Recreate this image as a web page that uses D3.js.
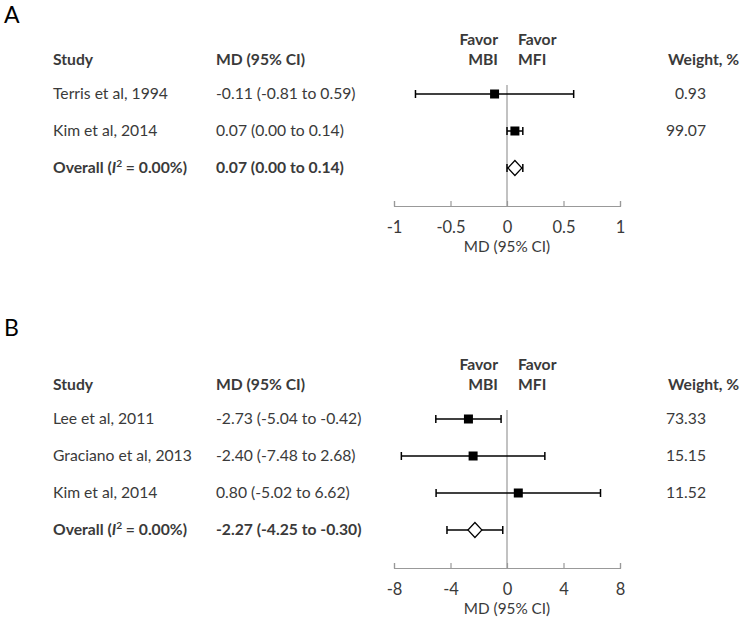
<!DOCTYPE html>
<html>
<head>
<meta charset="utf-8">
<script src="https://cdn.jsdelivr.net/npm/d3@7"></script>
<style>
  body { margin: 0; background: #fff; }
  svg { display: block; }
  text { font-family: Lato, "Open Sans", sans-serif; fill: #3a3a3a; }
</style>
</head>
<body>
<svg id="chart" width="743" height="623"></svg>
<script>
// ---- Panel A data ----
const studiesA = ["Terris et al, 1994", "Kim et al, 2014"];
const mdA = [-0.11, 0.07];
const loA = [-0.81, 0.00];
const hiA = [0.59, 0.14];
const weightsA = ["0.93", "99.07"];
const overallA = [0.07, 0.00, 0.14];
const overallTextA = "0.07 (0.00 to 0.14)";
const ticksA = [-1, -0.5, 0, 0.5, 1];

// ---- Panel B data ----
const studiesB = ["Lee et al, 2011", "Graciano et al, 2013", "Kim et al, 2014"];
const mdB = [-2.73, -2.40, 0.80];
const loB = [-5.04, -7.48, -5.02];
const hiB = [-0.42, 2.68, 6.62];
const weightsB = ["73.33", "15.15", "11.52"];
const overallB = [-2.27, -4.25, -0.30];
const overallTextB = "-2.27 (-4.25 to -0.30)";
const ticksB = [-8, -4, 0, 4, 8];

const fmt = v => v.toFixed(2);
const ciText = (m, l, h) => `${fmt(m)} (${fmt(l)} to ${fmt(h)})`;

const svg = d3.select("#chart");

function panel(cfg) {
  const g = svg.append("g");
  const n = cfg.studies.length;
  const hdr = cfg.headerY;
  const y = d3.scalePoint().domain(d3.range(n + 1)).range([hdr + 34, hdr + 34 + 37 * n]);
  const axisY = y(n) + 38;
  const x = d3.scaleLinear().domain(cfg.domain).range([394, 620]);

  // panel letter
  g.append("text").attr("x", 4).attr("y", cfg.letterY).attr("font-size", 23).style("fill", "#000").text(cfg.letter);

  // headers
  const hfs = 15.7;
  const head = (tx, xx, yy, anchor) => g.append("text").attr("x", xx).attr("y", yy).attr("dy", "0.35em")
    .attr("text-anchor", anchor || "start").attr("font-size", hfs).attr("font-weight", "bold").text(tx);
  head("Study", 53, hdr);
  head("MD (95% CI)", 216, hdr);
  head("Weight, %", 668, hdr);
  head("Favor", 498, hdr - 20, "end");
  head("MBI", 498, hdr, "end");
  head("Favor", 518, hdr - 20);
  head("MFI", 518, hdr);

  const fs = 15.7;
  // study rows
  cfg.studies.forEach((s, i) => {
    g.append("text").attr("x", 53).attr("y", y(i)).attr("dy", "0.35em").attr("font-size", fs).text(s);
    g.append("text").attr("x", 216).attr("y", y(i)).attr("dy", "0.35em").attr("font-size", fs)
      .text(ciText(cfg.md[i], cfg.lo[i], cfg.hi[i]));
    g.append("text").attr("x", 706).attr("y", y(i)).attr("dy", "0.35em").attr("text-anchor", "end").attr("font-size", fs).text(cfg.weights[i]);
  });
  // overall row
  const ot = g.append("text").attr("x", 53).attr("y", y(n)).attr("dy", "0.35em").attr("font-size", fs).attr("font-weight", "bold");
  ot.append("tspan").text("Overall (");
  ot.append("tspan").attr("font-style", "italic").text("I");
  ot.append("tspan").attr("font-size", fs * 0.65).attr("dy", "-0.6em").text("2");
  ot.append("tspan").attr("dy", "0.39em").text(" = 0.00%)");
  g.append("text").attr("x", 216).attr("y", y(n)).attr("dy", "0.35em").attr("font-size", fs).attr("font-weight", "bold").text(cfg.overallText);

  // zero line
  g.append("line").attr("x1", x(0)).attr("x2", x(0)).attr("y1", y(0) - 9).attr("y2", axisY)
    .attr("stroke", "#999").attr("stroke-width", 1.2);

  // axis
  const ax = g.append("g").attr("transform", `translate(0,${axisY})`)
    .call(d3.axisBottom(x).tickValues(cfg.ticks).tickSizeInner(-5).tickSizeOuter(-5).tickPadding(15)
      .tickFormat(d => String(d)));
  ax.select(".domain").attr("stroke", "#999").attr("stroke-width", 1.2);
  ax.selectAll(".tick line").attr("stroke", "#999").attr("stroke-width", 1.2);
  ax.selectAll(".tick text").attr("font-size", 16.5).attr("font-family", "Lato, sans-serif").style("fill", "#3a3a3a");
  g.append("text").attr("x", x(0)).attr("y", axisY + 41).attr("dy", "0.35em").attr("text-anchor", "middle").attr("font-size", 15.3).text("MD (95% CI)");

  // error bars
  const rows = cfg.md.map((m, i) => ({ m, l: cfg.lo[i], h: cfg.hi[i], yy: y(i), ov: false }));
  rows.push({ m: cfg.overall[0], l: cfg.overall[1], h: cfg.overall[2], yy: y(n), ov: true });
  const eb = g.append("g").attr("stroke", "#000").attr("stroke-width", 1.5);
  rows.forEach(r => {
    eb.append("line").attr("x1", x(r.l)).attr("x2", x(r.h)).attr("y1", r.yy).attr("y2", r.yy);
    eb.append("line").attr("x1", x(r.l)).attr("x2", x(r.l)).attr("y1", r.yy - 4).attr("y2", r.yy + 4);
    eb.append("line").attr("x1", x(r.h)).attr("x2", x(r.h)).attr("y1", r.yy - 4).attr("y2", r.yy + 4);
  });
  rows.forEach(r => {
    if (!r.ov) {
      g.append("rect").attr("x", x(r.m) - 4.5).attr("y", r.yy - 4.5).attr("width", 9).attr("height", 9).attr("fill", "#000");
    } else {
      const cx = x(r.m), cy = r.yy;
      g.append("path").attr("d", `M${cx - 7},${cy} L${cx},${cy - 7.5} L${cx + 7},${cy} L${cx},${cy + 7.5} Z`)
        .attr("fill", "#fff").attr("stroke", "#000").attr("stroke-width", 1.2);
    }
  });
}

panel({ letter: "A", letterY: 23, headerY: 60, domain: [-1, 1], ticks: ticksA,
  studies: studiesA, md: mdA, lo: loA, hi: hiA, weights: weightsA, overall: overallA, overallText: overallTextA });
panel({ letter: "B", letterY: 336, headerY: 385, domain: [-8, 8], ticks: ticksB,
  studies: studiesB, md: mdB, lo: loB, hi: hiB, weights: weightsB, overall: overallB, overallText: overallTextB });
</script>
</body>
</html>
